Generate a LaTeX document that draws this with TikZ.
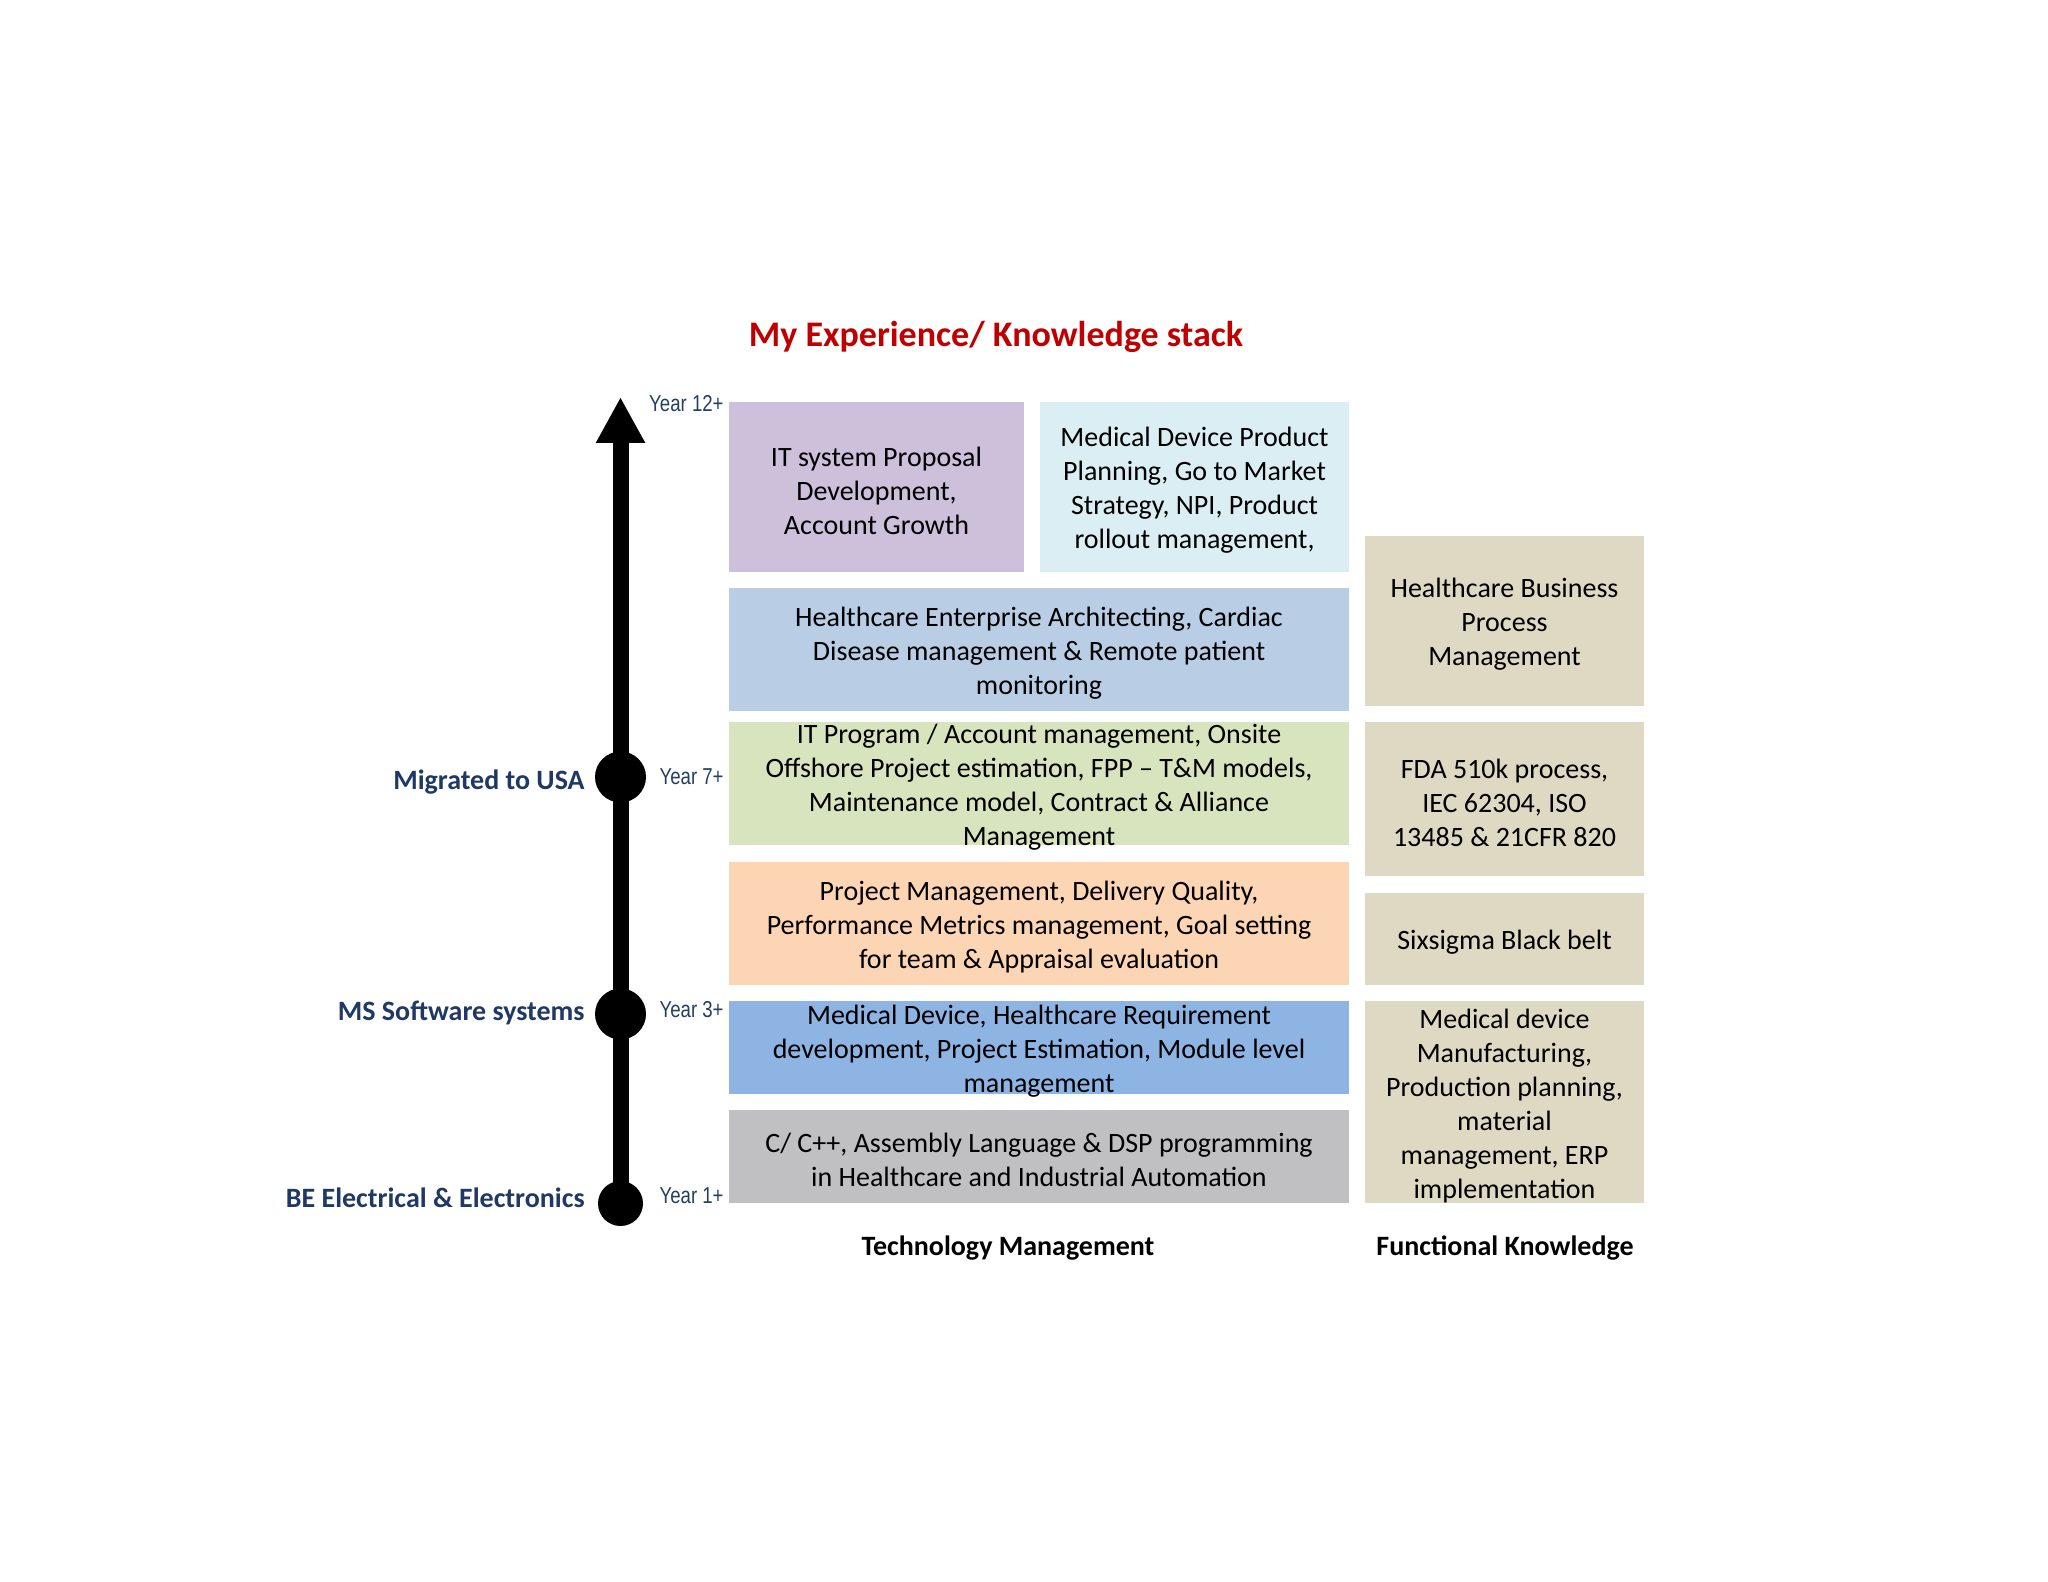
\documentclass[tikz,border=0pt]{standalone}
\usepackage{fontspec}
\setmainfont{Carlito}
\newfontfamily\narrowfont[FakeStretch=0.81]{Liberation Sans}
\usetikzlibrary{arrows.meta}
\definecolor{navy}{HTML}{1F3864}
\definecolor{yearblue}{HTML}{243F60}
\definecolor{titlered}{HTML}{C00000}
\definecolor{cPurple}{HTML}{CCC0DA}
\definecolor{cCyan}{HTML}{DAEEF3}
\definecolor{cSteel}{HTML}{B9CDE5}
\definecolor{cGreen}{HTML}{D7E4BD}
\definecolor{cOrange}{HTML}{FCD5B5}
\definecolor{cBlue}{HTML}{8EB4E3}
\definecolor{cGray}{HTML}{C0BFC2}
\definecolor{cTan}{HTML}{DDD9C3}
\begin{document}
\begin{tikzpicture}[x=0.5pt,y=-0.5pt,
  tile/.style={inner sep=0pt, outer sep=0pt, anchor=north west, draw=none},
  boxtxt/.style={font=\fontsize{14pt}{17pt}\selectfont, align=center, inner sep=0pt, text=black, yshift=-1.8pt},
  milestone/.style={font=\bfseries\fontsize{14pt}{17pt}\selectfont, text=navy, anchor=base east, inner sep=0pt},
  yearlbl/.style={font=\narrowfont\fontsize{11.5pt}{13pt}\selectfont, text=yearblue, anchor=base east, inner sep=0pt},
  dot/.style={circle, fill=black, inner sep=0pt},
  collbl/.style={font=\bfseries\fontsize{14pt}{17pt}\selectfont, anchor=base, inner sep=0pt}
]
\useasboundingbox (0,0) rectangle (2048,1582);

% title
\node[font=\bfseries\fontsize{18pt}{22pt}\selectfont, text=titlered, anchor=base, inner sep=0pt] (title) at (996,347) {My Experience/ Knowledge stack};

% technology tiles
\node[tile, fill=cPurple, minimum width=147.5pt, minimum height=85pt] (b1) at (729,402) {};
\node[tile, fill=cCyan, minimum width=154.5pt, minimum height=85pt] (b2) at (1040,402) {};
\node[tile, fill=cSteel, minimum width=310pt, minimum height=61.5pt] (b3) at (729,588) {};
\node[tile, fill=cGreen, minimum width=310pt, minimum height=61.5pt] (b4) at (729,722) {};
\node[tile, fill=cOrange, minimum width=310pt, minimum height=61.5pt] (b5) at (729,862) {};
\node[tile, fill=cBlue, minimum width=310pt, minimum height=46.5pt] (b6) at (729,1001) {};
\node[tile, fill=cGray, minimum width=310pt, minimum height=46.5pt] (b7) at (729,1110) {};

% functional tiles
\node[tile, fill=cTan, minimum width=139.5pt, minimum height=85pt] (b8) at (1365,536) {};
\node[tile, fill=cTan, minimum width=139.5pt, minimum height=77pt] (b9) at (1365,722) {};
\node[tile, fill=cTan, minimum width=139.5pt, minimum height=46pt] (b10) at (1365,893) {};
\node[tile, fill=cTan, minimum width=139.5pt, minimum height=101pt] (b11) at (1365,1001) {};

% tile texts
\node[boxtxt] (t1) at (b1.center) {IT system Proposal\\Development,\\Account Growth};
\node[boxtxt] (t2) at (b2.center) {Medical Device Product\\Planning, Go to Market\\Strategy, NPI, Product\\rollout management,};
\node[boxtxt] (t3) at (b3.center) {Healthcare Enterprise Architecting, Cardiac\\Disease management \& Remote patient\\monitoring};
\node[boxtxt] (t4) at (b4.center) {IT Program / Account management, Onsite\\Offshore Project estimation, FPP -- T\&M models,\\Maintenance model, Contract \& Alliance\\Management};
\node[boxtxt] (t5) at (b5.center) {Project Management, Delivery Quality,\\Performance Metrics management, Goal setting\\for team \& Appraisal evaluation};
\node[boxtxt] (t6) at (b6.center) {Medical Device, Healthcare Requirement\\development, Project Estimation, Module level\\management};
\node[boxtxt] (t7) at (b7.center) {C/ C++, Assembly Language \& DSP programming\\in Healthcare and Industrial Automation};
\node[boxtxt] (t8) at (b8.center) {Healthcare Business\\Process\\Management};
\node[boxtxt] (t9) at (b9.center) {FDA 510k process,\\IEC 62304, ISO\\13485 \& 21CFR 820};
\node[boxtxt] (t10) at (b10.center) {Sixsigma Black belt};
\node[boxtxt] (t11) at (b11.center) {Medical device\\Manufacturing,\\Production planning,\\material\\management, ERP\\implementation};

% column labels
\node[collbl] (colTech) at (1008,1255) {Technology Management};
\node[collbl] (colFunc) at (1505,1255) {Functional Knowledge};

% timeline
\coordinate (top) at (620.5,397);
\node[dot, minimum size=22.5pt] (be) at (620.5,1203.5) {};
\node[dot, minimum size=25.5pt] (ms) at (620.5,1014) {};
\node[dot, minimum size=25.5pt] (usa) at (620.5,777) {};
\draw[line width=8pt, -{Triangle[length=23pt,width=23pt]}] (be.center) -- (top);

% milestone labels
\node[milestone] (lUSA) at (585,789) {Migrated to USA};
\node[milestone] (lMS) at (585,1020) {MS Software systems};
\node[milestone] (lBE) at (585,1207) {BE Electrical \& Electronics};

% year labels
\node[yearlbl] (y12) at (724,412) {Year 12+};
\node[yearlbl] (y7) at (724,784) {Year 7+};
\node[yearlbl] (y3) at (724,1017) {Year 3+};
\node[yearlbl] (y1) at (724,1203) {Year 1+};
\end{tikzpicture}
\end{document}
